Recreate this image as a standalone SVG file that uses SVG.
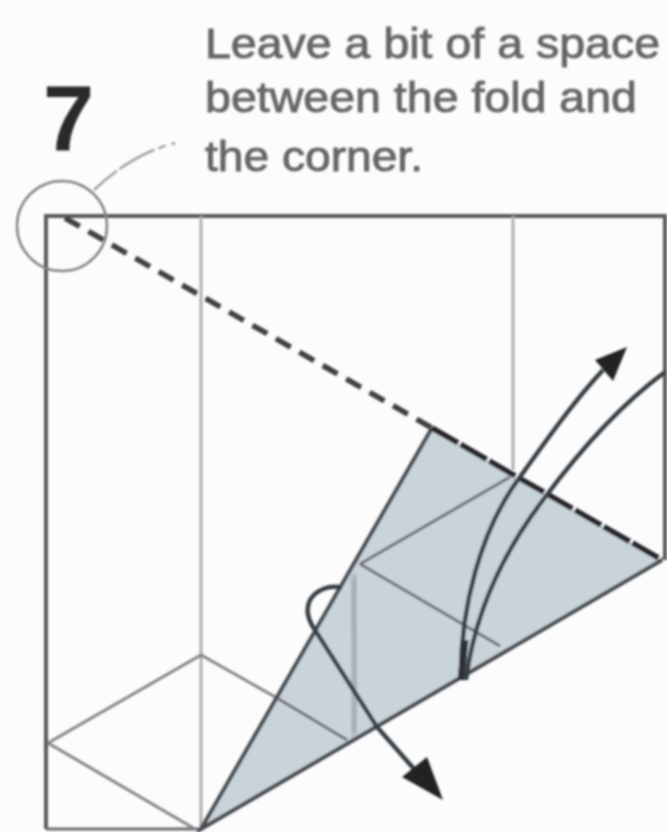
<svg xmlns="http://www.w3.org/2000/svg" width="667" height="832" viewBox="0 0 667 832">
<defs>
<filter id="soft" x="-5%" y="-5%" width="110%" height="110%"><feGaussianBlur stdDeviation="1.1"/></filter>
<filter id="softer" x="-50%" y="-5%" width="200%" height="110%"><feGaussianBlur stdDeviation="3"/></filter>
</defs>
<style>
.t{font-family:"Liberation Sans",Arial,sans-serif;font-size:43px;fill:#666668;stroke:#666668;stroke-width:.9}
.frame{fill:none;stroke:#5a5a5c;stroke-width:4}
.crease{fill:none;stroke:#aeaeb2;stroke-width:3}
.thin{fill:none;stroke:#6e7073;stroke-width:3}
.edge{fill:none;stroke:#474d51;stroke-width:4}
.arc{fill:none;stroke:#394145;stroke-width:4.5}
.tip{fill:#202224}
</style>
<rect width="667" height="832" fill="#fdfcfd"/>
<g filter="url(#soft)">
<text class="t" x="205" y="58" textLength="455" lengthAdjust="spacingAndGlyphs">Leave a bit of a space</text>
<text class="t" x="205" y="112" textLength="432" lengthAdjust="spacingAndGlyphs">between the fold and</text>
<text class="t" x="205" y="171" textLength="218" lengthAdjust="spacingAndGlyphs">the corner.</text>
<text x="43" y="150" font-family="'Liberation Sans',Arial,sans-serif" font-weight="700" font-size="92" fill="#2a2a2c">7</text>
<path class="frame" d="M46 829V216H665V560"/>
<path d="M46 829H201" fill="none" stroke="#6a6a6c" stroke-width="3"/>
<path class="crease" d="M201 216V829M513 216V470"/>
<circle cx="62" cy="226" r="45" fill="none" stroke="#858589" stroke-width="2.5"/>
<path d="M94 190C120 165 150 148 180 142" fill="none" stroke="#a0a0a4" stroke-width="2.5" stroke-dasharray="30 3 40 4 8 6 4 6"/>
<path d="M65 218L432 428" fill="none" stroke="#3f4144" stroke-width="5.5" stroke-dasharray="17 10"/>
<path d="M48 743L201 655L277 698M48 743L195 829" fill="none" stroke="#85858a" stroke-width="3"/>
<polygon points="432,428 662,560 201,829" fill="#c9d3da"/>
<path d="M355 575C350 620 360 680 353 735" fill="none" stroke="#a4acb3" stroke-width="10" filter="url(#softer)"/>
<path class="thin" d="M360 564L510 477M360 564L500 646M277 698L347 740"/>
<path class="edge" d="M432 428L201 829L662 560"/>
<path d="M432 428L662 560" fill="none" stroke="#26282b" stroke-width="5.5" stroke-dasharray="30 3"/>
<path class="arc" d="M461 680C460 610 480 530 520 477C550 435 575 400 603 370"/>
<polygon class="tip" points="627,347 595,360 613,381"/>
<path class="arc" d="M466 680C475 610 505 550 543 500C580 450 620 405 665 372"/>
<path d="M461 680L465 640" fill="none" stroke="#2d3337" stroke-width="7"/>
<path class="arc" d="M342 588C330 584 316 590 310 600C305 610 308 620 315 630L377 727L415 770"/>
<polygon class="tip" points="443,800 402,777 427,757"/>
</g>
</svg>
